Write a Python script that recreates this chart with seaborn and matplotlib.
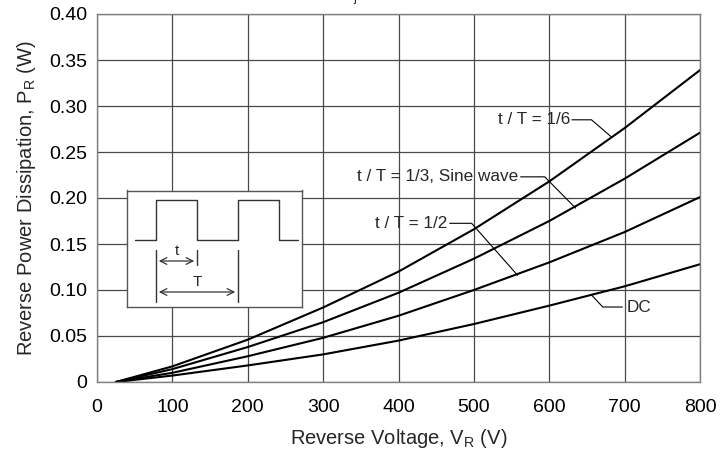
import numpy as np
import pandas as pd
import matplotlib
matplotlib.use("Agg")
import matplotlib.pyplot as plt
import seaborn as sns

# Data
voltage = [25, 100, 200, 300, 400, 500, 600, 700, 800]
p_sixth = [0, 0.017, 0.046, 0.081, 0.120, 0.166, 0.218, 0.276, 0.339]
p_third = [0, 0.014, 0.038, 0.065, 0.097, 0.134, 0.175, 0.221, 0.271]
p_half = [0, 0.010, 0.028, 0.048, 0.072, 0.100, 0.130, 0.163, 0.201]
p_dc = [0, 0.007, 0.018, 0.030, 0.045, 0.063, 0.083, 0.104, 0.128]
series_names = ["t/T = 1/6", "t/T = 1/3", "t/T = 1/2", "DC"]

x_ticks = [0, 100, 200, 300, 400, 500, 600, 700, 800]
y_ticks = [0, 0.05, 0.10, 0.15, 0.20, 0.25, 0.30, 0.35, 0.40]
y_tick_labels = ["0", "0.05", "0.10", "0.15", "0.20", "0.25", "0.30", "0.35", "0.40"]

df = pd.DataFrame({
    "V": voltage * 4,
    "P": p_sixth + p_third + p_half + p_dc,
    "series": [s for s in series_names for _ in voltage],
})

sns.set_theme(style="white")
plt.rcParams["font.family"] = ["Liberation Sans", "DejaVu Sans"]
plt.rcParams["mathtext.fontset"] = "custom"
plt.rcParams["mathtext.rm"] = "Liberation Sans"
plt.rcParams["mathtext.it"] = "Liberation Sans"

fig = plt.figure(figsize=(7.21, 4.51), dpi=100)
ax = fig.add_axes([97 / 721, 1 - 382 / 451, 603 / 721, 368 / 451])

sns.lineplot(data=df, x="V", y="P", hue="series", palette=["black"] * 4,
             legend=False, linewidth=1.5, ax=ax)

ax.set_xlim(0, 800)
ax.set_ylim(0, 0.40)
ax.set_xticks(x_ticks)
ax.set_yticks(y_ticks)
ax.set_yticklabels(y_tick_labels)
ax.tick_params(axis="both", length=0, labelsize=14, colors="black")
ax.tick_params(axis="x", pad=12)
ax.tick_params(axis="y", pad=7)
ax.grid(True, color="#4a4a4a", linewidth=0.9)
for sp in ax.spines.values():
    sp.set_color("#808080")
    sp.set_linewidth(1.0)

ax.set_xlabel("Reverse Voltage, V$_\\mathregular{R}$ (V)", fontsize=14.5, labelpad=8)
ax.set_ylabel("Reverse Power Dissipation, P$_\\mathregular{R}$ (W)", fontsize=14.5, labelpad=8)

# labels with leader lines
lead_kw = dict(color="black", linewidth=0.8)
ann_size = 12.3
ax.plot([630, 656, 683], [0.285, 0.285, 0.266], **lead_kw)
ax.text(628, 0.285, "t / T = 1/6", ha="right", va="center", fontsize=ann_size)

ax.plot([562, 594, 635], [0.223, 0.223, 0.189], **lead_kw)
ax.text(559, 0.223, "t / T = 1/3, Sine wave", ha="right", va="center", fontsize=ann_size)

ax.plot([468, 497, 558], [0.1725, 0.1725, 0.116], **lead_kw)
ax.text(465, 0.1725, "t / T = 1/2", ha="right", va="center", fontsize=ann_size)

ax.plot([656, 671, 697], [0.0946, 0.0815, 0.0815], **lead_kw)
ax.text(703, 0.0815, "DC", ha="left", va="center", fontsize=ann_size)

# heading at the top, cut off by the figure edge as in the original
fig.text(342 / 721, 1 + 1 / 451, "T$_\\mathregular{j}$ = 25 °C", ha="left",
         va="baseline", fontsize=13)

# inset: pulse waveform sketch (pixel-like coordinates)
ins = fig.add_axes([127 / 721, 1 - 307 / 451, 175 / 721, 116.5 / 451])
ins.set_xlim(127, 302)
ins.set_ylim(307, 190.5)
ins.set_xticks([])
ins.set_yticks([])
ins.set_facecolor("white")
for sp in ins.spines.values():
    sp.set_color("#555555")
    sp.set_linewidth(1.0)
wave_x = [135, 156, 156, 197, 197, 238, 238, 279, 279, 298]
wave_y = [240, 240, 200, 200, 240, 240, 200, 200, 240, 240]
ins.plot(wave_x, wave_y, color="#333333", linewidth=1.0)
ins.plot([156, 156], [250, 302], color="#333333", linewidth=1.0)
ins.plot([197, 197], [250, 265], color="#333333", linewidth=1.0)
ins.plot([238, 238], [250, 302], color="#333333", linewidth=1.0)
ins.annotate("", xy=(156, 261), xytext=(197, 261),
             arrowprops=dict(arrowstyle="<->", color="#333333", lw=0.9))
ins.annotate("", xy=(156, 292), xytext=(238, 292),
             arrowprops=dict(arrowstyle="<->", color="#333333", lw=0.9))
ins.text(177, 258, "t", ha="center", va="bottom", fontsize=11)
ins.text(197, 289, "T", ha="center", va="bottom", fontsize=11)

fig.savefig("out.png", dpi=100)
